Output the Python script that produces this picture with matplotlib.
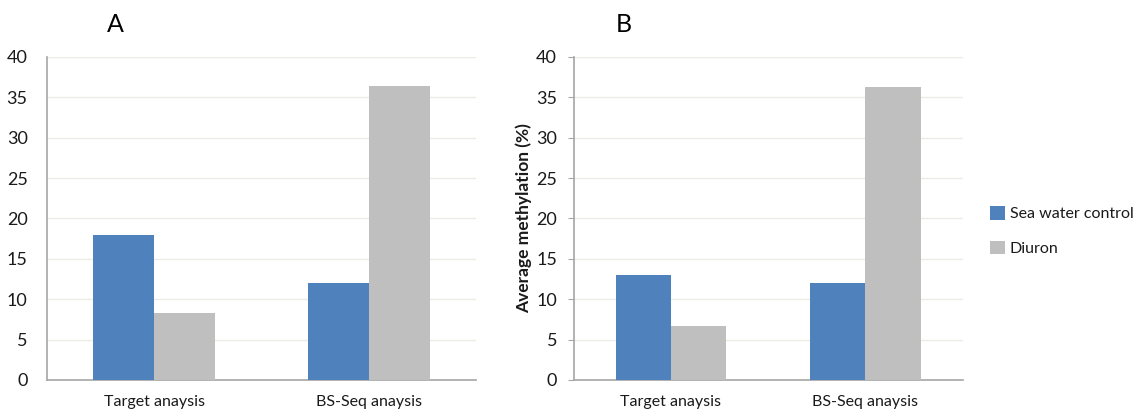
import matplotlib
matplotlib.use("Agg")
import matplotlib.pyplot as plt
import numpy as np

plt.rcParams['font.family'] = ['Lato', 'DejaVu Sans']

# data
categories = ["Target anaysis", "BS-Seq anaysis"]
series_names = ["Sea water control", "Diuron"]
a_control = [17.9, 12.0]
a_diuron = [8.3, 36.4]
b_control = [13.0, 12.0]
b_diuron = [6.7, 36.3]
yticks = [0, 5, 10, 15, 20, 25, 30, 35, 40]

blue = "#4F81BD"
grey = "#BFBFBF"
axis_col = "#A6A6A6"
grid_col = "#ECECE4"
text_col = "#1a1a1a"

fig = plt.figure(figsize=(11.42, 4.12), dpi=100)
axA = fig.add_axes([0.0412, 0.0777, 0.3757, 0.784])
axB = fig.add_axes([0.5024, 0.0777, 0.3405, 0.784])

x = np.arange(len(categories))
w = 0.285

def draw(ax, ctrl, diu, ticks_out):
    ax.bar(x - w / 2, ctrl, w, color=blue, label=series_names[0], zorder=3)
    ax.bar(x + w / 2, diu, w, color=grey, label=series_names[1], zorder=3)
    ax.set_xlim(-0.5, 1.5)
    ax.set_ylim(0, 40)
    ax.set_yticks(yticks)
    ax.set_xticks(x)
    ax.set_xticklabels(categories, fontsize=11.5, color=text_col)
    ax.grid(axis="y", color=grid_col, lw=1, zorder=0)
    for s in ["top", "right"]:
        ax.spines[s].set_visible(False)
    for s in ["left", "bottom"]:
        ax.spines[s].set_color(axis_col)
        ax.spines[s].set_linewidth(1.2)
    ax.tick_params(axis="x", length=0, pad=11)
    if ticks_out:
        ax.tick_params(axis="y", length=4, color=axis_col, pad=8,
                       labelsize=13, labelcolor=text_col)
    else:
        ax.tick_params(axis="y", length=0, pad=14,
                       labelsize=13, labelcolor=text_col)

draw(axA, a_control, a_diuron, False)
draw(axB, b_control, b_diuron, True)

axB.set_ylabel("Average methylation (%)", fontsize=12.5, fontweight="bold",
               color=text_col, labelpad=3)

fig.text(115 / 1142, 1 - 25 / 412, "A", fontsize=18, ha="center", va="center")
fig.text(624 / 1142, 1 - 25 / 412, "B", fontsize=18, ha="center", va="center")

fig.legend(handles=[axB.containers[0], axB.containers[1]],
           labels=series_names, loc="center left",
           bbox_to_anchor=(976 / 1142, 1 - 231 / 412), frameon=False,
           fontsize=11.5, handlelength=0.9, handleheight=0.9,
           handletextpad=0.3, labelspacing=1.2, labelcolor=text_col)

fig.savefig("out.png", dpi=100)
